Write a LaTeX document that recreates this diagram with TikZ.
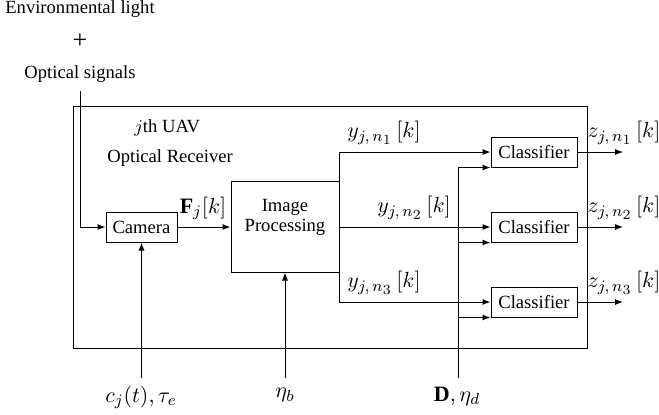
\documentclass[tikz,border=0pt]{standalone}
\usepackage{fontspec}
\setmainfont{Liberation Serif}
\DeclareMathSizes{10}{11}{8.2}{7}
\usetikzlibrary{arrows.meta}
\begin{document}
\begin{tikzpicture}[x=0.5pt,y=-0.5pt,
  every node/.style={font=\fontsize{9.3}{11}\selectfont},
  blk/.style={draw, line width=0.5pt, inner sep=0pt},
  conn/.style={line width=0.5pt},
  arr/.style={conn, -{Latex[length=4pt,width=3pt]}},
  lbl/.style={inner sep=0pt},
  sig/.style={inner sep=0pt, font=\fontsize{10}{12}\selectfont}]
\useasboundingbox (0,0) rectangle (659,414);
% boxes
\node[blk, minimum width=257pt, minimum height=121pt] (uav) at (330,227) {};
\node[blk, minimum width=35.5pt, minimum height=15pt] (cam) at (141.5,227) {Camera};
\node[blk, minimum width=54pt, minimum height=45.5pt] (ip) at (285,226.5) {};
\node[lbl, align=center] (iptxt) at (285,217) {Image\\[-1pt]Processing};
\node[blk, minimum width=43pt, minimum height=15pt] (c1) at (534,152) {Classifier};
\node[blk, minimum width=43pt, minimum height=15pt] (c2) at (534,227) {Classifier};
\node[blk, minimum width=43pt, minimum height=15pt] (c3) at (534,302) {Classifier};
% texts
\node[lbl] (env) at (80,9) {Environmental light};
\node[lbl] (plus) at (80,41) {\fontsize{13}{13}\selectfont +};
\node[lbl] (opt) at (80,74) {Optical signals};
\node[lbl, anchor=west] (jth) at (134,128) {$j$th UAV};
\node[lbl, anchor=west] (orx) at (107,158) {Optical Receiver};
\node[sig] (F) at (203,208) {$\mathbf{F}_j[k]$};
\node[sig] (y1) at (384,133) {$y_{j,\,n_1}\,[k]$};
\node[sig] (y2) at (414,208) {$y_{j,\,n_2}\,[k]$};
\node[sig] (y3) at (384,283) {$y_{j,\,n_3}\,[k]$};
\node[sig] (z1) at (624,133) {$z_{j,\,n_1}\,[k]$};
\node[sig] (z2) at (624,208) {$z_{j,\,n_2}\,[k]$};
\node[sig] (z3) at (624,283) {$z_{j,\,n_3}\,[k]$};
\node[sig] (cl) at (141,397) {$c_j(t),\tau_e$};
\node[sig] (eb) at (285,395) {$\eta_b$};
\node[sig] (dl) at (457,396) {$\mathbf{D},\eta_d$};
% coordinates
\coordinate (in) at (80,91);
\coordinate (cbot) at (141.5,378);
\coordinate (ebot) at (285,378);
\coordinate (dbot) at (458,378);
\coordinate (sp1) at (339,152);
\coordinate (sp3) at (339,302);
\coordinate (o1) at (623,152);
\coordinate (o2) at (623,227);
\coordinate (o3) at (623,302);
% connectors
\draw[arr] (in) |- (cam.west);
\draw[arr] (cam.east) -- (cam.east -| ip.west);
\draw[conn] (sp1) -- (sp3);
\draw[arr] (sp1) -- (c1.west);
\draw[arr] (ip.east |- c2.west) -- (c2.west);
\draw[arr] (sp3) -- (c3.west);
\draw[arr] (cbot) -- (cam.south);
\draw[arr] (ebot) -- (ip.south);
\draw[arr] (dbot) |- (c1.south west);
\draw[arr] (dbot |- c2.south west) -- (c2.south west);
\draw[arr] (dbot |- c3.south west) -- (c3.south west);
\draw[arr] (c1.east) -- (o1);
\draw[arr] (c2.east) -- (o2);
\draw[arr] (c3.east) -- (o3);
\end{tikzpicture}
\end{document}
